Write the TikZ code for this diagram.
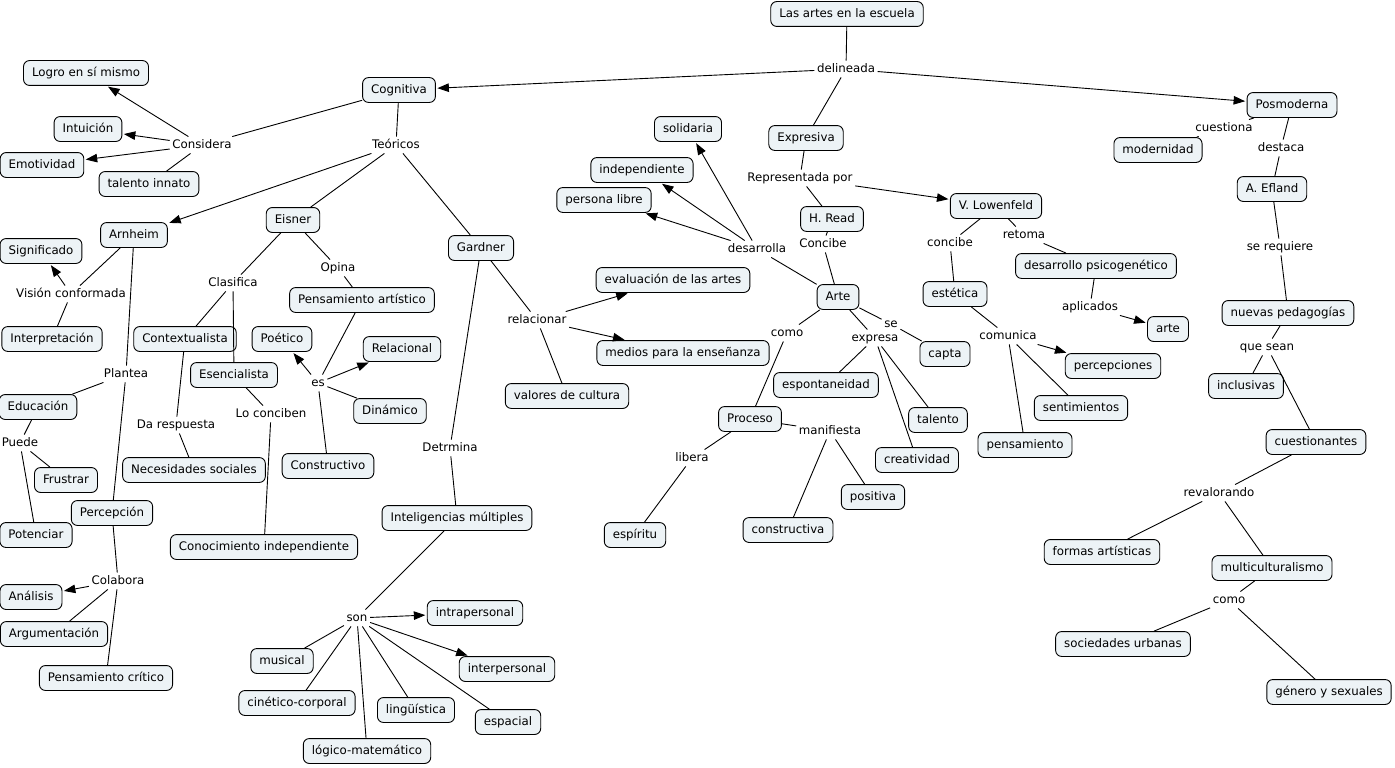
\documentclass[tikz,border=0pt]{standalone}
\usepackage{fontspec}
\setmainfont{DejaVu Sans}
\usetikzlibrary{arrows.meta}
\definecolor{boxfill}{RGB}{237,243,246}
\begin{document}
\begin{tikzpicture}[x=1pt,y=-1pt,
  txt/.style={font=\fontsize{11.8}{14}\selectfont, text height=8.9pt, text depth=2.6pt},
  concept/.style={txt, draw=black, line width=0.9pt, fill=boxfill, rounded corners=6pt, inner xsep=8.5pt, inner ysep=6.7pt},
  lp/.style={txt, inner sep=2.5pt},
  ln/.style={line width=0.9pt},
  arr/.style={line width=0.9pt, -{Triangle[length=11.5pt,width=8.5pt]}, shorten >=1.5pt},
]
\useasboundingbox (0,0) rectangle (1395,768);
\fill[white] (0,0) rectangle (1395,768);
% ---------- concepts ----------
\node[concept] (artes) at (847,14) {Las artes en la escuela};
\node[concept] (cogn) at (399,90) {Cognitiva};
\node[concept] (posm) at (1292,105) {Posmoderna};
\node[concept] (expr) at (806,138) {Expresiva};
\node[concept] (logro) at (86,73) {Logro en sí mismo};
\node[concept] (intu) at (88,129) {Intuición};
\node[concept] (emot) at (42,165) {Emotividad};
\node[concept] (tinn) at (149,184) {talento innato};
\node[concept] (arnh) at (134,235) {Arnheim};
\node[concept] (eisn) at (293,220) {Eisner};
\node[concept] (gard) at (481,248) {Gardner};
\node[concept] (sign) at (41,251) {Significado};
\node[concept] (inte) at (52,339) {Interpretación};
\node[concept] (cont) at (185,339) {Contextualista};
\node[concept] (esen) at (234,375) {Esencialista};
\node[concept] (pens) at (362,300) {Pensamiento artístico};
\node[concept] (poet) at (282,339) {Poético};
\node[concept] (rela) at (402,349) {Relacional};
\node[concept] (dina) at (390,411) {Dinámico};
\node[concept] (cons) at (328,466) {Constructivo};
\node[concept] (educ) at (38,407) {Educación};
\node[concept] (frus) at (66,480) {Frustrar};
\node[concept] (perc) at (112,513) {Percepción};
\node[concept] (pote) at (36,535) {Potenciar};
\node[concept] (neso) at (194,470) {Necesidades sociales};
\node[concept] (coin) at (264,547) {Conocimiento independiente};
\node[concept] (anal) at (31,597) {Análisis};
\node[concept] (argu) at (54,634) {Argumentación};
\node[concept] (pecr) at (106,678) {Pensamiento crítico};
\node[concept] (intm) at (457,518) {Inteligencias múltiples};
\node[concept] (intra) at (475,613) {intrapersonal};
\node[concept] (inter) at (507,669) {interpersonal};
\node[concept] (musi) at (282,661) {musical};
\node[concept] (cine) at (297,703) {cinético-corporal};
\node[concept] (ling) at (416,710) {lingüística};
\node[concept] (espa) at (508,722) {espacial};
\node[concept] (logi) at (367,751) {lógico-matemático};
\node[concept] (soli) at (688,129) {solidaria};
\node[concept] (inde) at (642,170) {independiente};
\node[concept] (peli) at (604,200) {persona libre};
\node[concept] (eval) at (673,280) {evaluación de las artes};
\node[concept] (medi) at (683,353) {medios para la enseñanza};
\node[concept] (valo) at (567,396) {valores de cultura};
\node[concept] (hread) at (832,219) {H. Read};
\node[concept] (lowe) at (996,206) {V. Lowenfeld};
\node[concept] (arte) at (838,297) {Arte};
\node[concept] (capt) at (945,354) {capta};
\node[concept] (espo) at (826,385) {espontaneidad};
\node[concept] (tale) at (938,420) {talento};
\node[concept] (proc) at (750,419) {Proceso};
\node[concept] (crea) at (917,460) {creatividad};
\node[concept] (posi) at (873,497) {positiva};
\node[concept] (cnst) at (788,530) {constructiva};
\node[concept] (espi) at (635,535) {espíritu};
\node[concept] (este) at (955,294) {estética};
\node[concept] (desp) at (1096,266) {desarrollo psicogenético};
\node[concept] (arte2) at (1168,329) {arte};
\node[concept] (perp) at (1113,366) {percepciones};
\node[concept] (sent) at (1081,408) {sentimientos};
\node[concept] (pnsm) at (1025,445) {pensamiento};
\node[concept] (efla) at (1272,189) {A. Efland};
\node[concept] (nuev) at (1288,313) {nuevas pedagogías};
\node[concept] (incl) at (1246,386) {inclusivas};
\node[concept] (cues) at (1316,442) {cuestionantes};
\node[concept] (mode) at (1158,150) {modernidad};
\node[concept] (form) at (1102,552) {formas artísticas};
\node[concept] (mult) at (1272,568) {multiculturalismo};
\node[concept] (soci) at (1123,644) {sociedades urbanas};
\node[concept] (gene) at (1329,692) {género y sexuales};
% ---------- linking phrases ----------
\node[lp] (delin) at (846,69) {delineada};
\node[lp] (consi) at (202,145) {Considera};
\node[lp] (teor) at (396,145) {Teóricos};
\node[lp] (visi) at (71,294) {Visión conformada};
\node[lp] (clas) at (233,283) {Clasifica};
\node[lp] (opin) at (338,268) {Opina};
\node[lp] (es) at (318,383) {es};
\node[lp] (plan) at (126,374) {Plantea};
\node[lp] (pued) at (20,443) {Puede};
\node[lp] (dare) at (176,425) {Da respuesta};
\node[lp] (loco) at (271,414) {Lo conciben};
\node[lp] (cola) at (118,581) {Colabora};
\node[lp] (detr) at (450,448) {Detrmina};
\node[lp] (son) at (357,618) {son};
\node[lp] (rel) at (537,320) {relacionar};
\node[lp] (desa) at (757,249) {desarrolla};
\node[lp] (repr) at (800,178) {Representada por};
\node[lp] (conc) at (823,244) {Concibe};
\node[lp] (como) at (787,333) {como};
\node[lp] (se) at (891,324) {se};
\node[lp] (expre) at (875,338) {expresa};
\node[lp] (mani) at (830,431) {manifiesta};
\node[lp] (libe) at (692,458) {libera};
\node[lp] (conc2) at (950,243) {concibe};
\node[lp] (reto) at (1024,235) {retoma};
\node[lp] (apli) at (1090,307) {aplicados};
\node[lp] (comu) at (1008,336) {comunica};
\node[lp] (cuesa) at (1224,128) {cuestiona};
\node[lp] (dest) at (1281,148) {destaca};
\node[lp] (sereq) at (1280,247) {se requiere};
\node[lp] (quese) at (1267,347) {que sean};
\node[lp] (reva) at (1219,493) {revalorando};
\node[lp] (como2) at (1229,600) {como};
% ---------- connectors ----------
\draw[ln] (artes) -- (delin);
\draw[arr] (delin) -- (cogn);
\draw[arr] (delin) -- (posm);
\draw[ln] (delin) -- (expr);
\draw[ln] (cogn) -- (consi);
\draw[arr] (consi) -- (logro);
\draw[arr] (consi) -- (intu);
\draw[arr] (consi) -- (emot);
\draw[ln] (consi) -- (tinn);
\draw[ln] (cogn) -- (teor);
\draw[arr] (teor) -- (arnh);
\draw[ln] (teor) -- (eisn);
\draw[ln] (teor) -- (gard);
\draw[ln] (arnh) -- (visi);
\draw[arr] (visi) -- (sign);
\draw[ln] (visi) -- (inte);
\draw[ln] (arnh) -- (plan);
\draw[ln] (plan) -- (educ);
\draw[ln] (plan) -- (perc);
\draw[ln] (educ) -- (pued);
\draw[ln] (pued) -- (frus);
\draw[ln] (pued) -- (pote);
\draw[ln] (perc) -- (cola);
\draw[arr] (cola) -- (anal);
\draw[ln] (cola) -- (argu);
\draw[ln] (cola) -- (pecr);
\draw[ln] (eisn) -- (clas);
\draw[ln] (clas) -- (cont);
\draw[ln] (clas) -- (esen);
\draw[ln] (eisn) -- (opin);
\draw[ln] (opin) -- (pens);
\draw[ln] (pens) -- (es);
\draw[arr] (es) -- (poet);
\draw[arr] (es) -- (rela);
\draw[ln] (es) -- (dina);
\draw[ln] (es) -- (cons);
\draw[ln] (cont) -- (dare);
\draw[ln] (dare) -- (neso);
\draw[ln] (esen) -- (loco);
\draw[ln] (loco) -- (coin);
\draw[ln] (gard) -- (detr);
\draw[ln] (detr) -- (intm);
\draw[ln] (gard) -- (rel);
\draw[arr] (rel) -- (eval);
\draw[arr] (rel) -- (medi);
\draw[ln] (valo) -- (rel);
\draw[ln] (intm) -- (son);
\draw[arr] (son) -- (intra);
\draw[arr] (son) -- (inter);
\draw[ln] (son) -- (musi);
\draw[ln] (son) -- (cine);
\draw[ln] (son) -- (logi);
\draw[ln] (son) -- (ling);
\draw[ln] (son) -- (espa);
\draw[ln] (expr) -- (repr);
\draw[ln] (repr) -- (hread);
\draw[arr] (repr) -- (lowe);
\draw[ln] (hread) -- (conc);
\draw[ln] (conc) -- (arte);
\draw[ln] (arte) -- (desa);
\draw[arr] (desa) -- (soli);
\draw[arr] (desa) -- (inde);
\draw[arr] (desa) -- (peli);
\draw[ln] (arte) -- (como);
\draw[ln] (como) -- (proc);
\draw[ln] (arte) -- (se);
\draw[ln] (se) -- (capt);
\draw[ln] (arte) -- (expre);
\draw[ln] (expre) -- (espo);
\draw[ln] (expre) -- (tale);
\draw[ln] (expre) -- (crea);
\draw[ln] (proc) -- (mani);
\draw[ln] (mani) -- (cnst);
\draw[ln] (mani) -- (posi);
\draw[ln] (proc) -- (libe);
\draw[ln] (libe) -- (espi);
\draw[ln] (lowe) -- (conc2);
\draw[ln] (conc2) -- (este);
\draw[ln] (lowe) -- (reto);
\draw[ln] (reto) -- (desp);
\draw[ln] (desp) -- (apli);
\draw[arr] (apli) -- (arte2);
\draw[ln] (este) -- (comu);
\draw[arr] (comu) -- (perp);
\draw[ln] (comu) -- (sent);
\draw[ln] (comu) -- (pnsm);
\draw[ln] (posm) -- (cuesa);
\draw[ln] (cuesa) -- (mode);
\draw[ln] (posm) -- (dest);
\draw[ln] (dest) -- (efla);
\draw[ln] (efla) -- (sereq);
\draw[ln] (sereq) -- (nuev);
\draw[ln] (nuev) -- (quese);
\draw[ln] (quese) -- (incl);
\draw[ln] (quese) -- (cues);
\draw[ln] (cues) -- (reva);
\draw[ln] (reva) -- (form);
\draw[ln] (reva) -- (mult);
\draw[ln] (mult) -- (como2);
\draw[ln] (como2) -- (soci);
\draw[ln] (como2) -- (gene);
\end{tikzpicture}
\end{document}
